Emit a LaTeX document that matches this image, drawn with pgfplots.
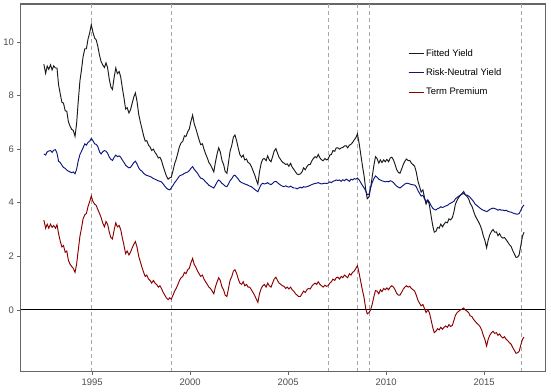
\documentclass[border=0pt]{standalone}
\usepackage{pgfplots}
\usepackage{pgfplotstable}
\usepackage{fontspec}
\setmainfont{Liberation Sans}
\pgfplotsset{compat=1.18}
\definecolor{fycol}{HTML}{1A1A1A}
\definecolor{rncol}{HTML}{0B1580}
\definecolor{tpcol}{HTML}{8B0000}
\definecolor{boxcol}{HTML}{666666}
\definecolor{ticklab}{HTML}{4D4D4D}
\definecolor{vlinecol}{HTML}{A6A6A6}
\pgfplotstableread{
x rn tp fy
1992.54 5.82 3.35 9.17
1992.63 5.78 3.05 8.83
1992.71 5.90 3.20 9.10
1992.79 5.93 3.05 8.98
1992.88 5.95 3.20 9.15
1992.96 5.88 3.08 8.96
1993.04 5.96 3.15 9.11
1993.13 5.98 3.05 9.03
1993.21 5.85 3.18 9.03
1993.29 5.55 2.85 8.40
1993.38 5.50 2.55 8.05
1993.46 5.40 2.35 7.75
1993.54 5.32 2.40 7.72
1993.63 5.28 2.15 7.43
1993.71 5.22 2.20 7.42
1993.79 5.18 1.85 7.03
1993.88 5.15 1.70 6.85
1993.96 5.12 1.62 6.74
1994.04 5.15 1.55 6.70
1994.13 5.08 1.40 6.48
1994.21 5.25 1.70 6.95
1994.29 5.55 2.20 7.75
1994.38 5.80 2.75 8.55
1994.46 5.92 3.05 8.97
1994.54 6.05 3.40 9.45
1994.63 6.20 3.55 9.75
1994.71 6.15 3.60 9.75
1994.79 6.25 3.85 10.10
1994.88 6.30 4.05 10.35
1994.96 6.40 4.25 10.65
1995.04 6.32 4.05 10.37
1995.13 6.20 3.95 10.15
1995.21 6.18 3.90 10.08
1995.29 6.10 3.75 9.85
1995.38 5.90 3.60 9.50
1995.46 5.82 3.45 9.27
1995.54 5.90 3.25 9.15
1995.63 5.95 3.10 9.05
1995.71 5.92 3.30 9.22
1995.79 5.85 3.20 9.05
1995.88 5.70 2.90 8.60
1995.96 5.62 2.70 8.32
1996.04 5.58 2.65 8.23
1996.13 5.70 3.00 8.70
1996.21 5.78 3.25 9.03
1996.29 5.72 3.10 8.82
1996.38 5.75 3.15 8.90
1996.46 5.70 3.00 8.70
1996.54 5.60 2.70 8.30
1996.63 5.50 2.40 7.90
1996.71 5.40 2.10 7.50
1996.79 5.35 2.20 7.55
1996.88 5.30 2.05 7.35
1996.96 5.32 2.15 7.47
1997.04 5.40 2.30 7.70
1997.13 5.50 2.45 7.95
1997.21 5.55 2.55 8.10
1997.29 5.45 2.35 7.80
1997.38 5.30 2.00 7.30
1997.46 5.22 1.80 7.02
1997.54 5.18 1.60 6.78
1997.63 5.10 1.40 6.50
1997.71 5.05 1.25 6.30
1997.79 5.02 1.30 6.32
1997.88 5.00 1.15 6.15
1997.96 4.98 1.10 6.08
1998.04 4.95 1.00 5.95
1998.13 4.90 1.10 6.00
1998.21 4.88 1.00 5.88
1998.29 4.85 0.95 5.80
1998.38 4.82 0.85 5.67
1998.46 4.80 0.90 5.70
1998.54 4.78 0.80 5.58
1998.63 4.70 0.65 5.35
1998.71 4.62 0.55 5.17
1998.79 4.55 0.45 5.00
1998.88 4.50 0.38 4.88
1998.96 4.48 0.45 4.93
1999.04 4.55 0.40 4.95
1999.13 4.65 0.55 5.20
1999.21 4.75 0.70 5.45
1999.29 4.82 0.80 5.62
1999.38 4.92 0.95 5.87
1999.46 5.00 1.10 6.10
1999.54 5.03 1.20 6.23
1999.63 5.05 1.25 6.30
1999.71 5.10 1.40 6.50
1999.79 5.12 1.35 6.47
1999.88 5.15 1.50 6.65
1999.96 5.20 1.55 6.75
2000.04 5.28 1.75 7.03
2000.13 5.35 1.92 7.27
2000.21 5.25 1.70 6.95
2000.29 5.18 1.60 6.78
2000.38 5.10 1.45 6.55
2000.46 5.00 1.35 6.35
2000.54 4.92 1.25 6.17
2000.63 4.90 1.30 6.20
2000.71 4.85 1.15 6.00
2000.79 4.78 1.05 5.83
2000.88 4.72 0.95 5.67
2000.96 4.65 0.85 5.50
2001.04 4.62 0.80 5.42
2001.13 4.58 0.70 5.28
2001.21 4.55 0.60 5.15
2001.29 4.65 0.85 5.50
2001.38 4.78 1.05 5.83
2001.46 4.85 1.20 6.05
2001.54 4.80 1.10 5.90
2001.63 4.72 0.85 5.57
2001.71 4.68 0.75 5.43
2001.79 4.62 0.55 5.17
2001.88 4.60 0.50 5.10
2001.96 4.70 0.80 5.50
2002.04 4.82 1.10 5.92
2002.13 4.90 1.25 6.15
2002.21 5.00 1.45 6.45
2002.29 5.03 1.50 6.53
2002.38 4.95 1.35 6.30
2002.46 4.88 1.15 6.03
2002.54 4.80 1.00 5.80
2002.63 4.75 0.95 5.70
2002.71 4.73 1.05 5.78
2002.79 4.70 0.90 5.60
2002.88 4.68 0.95 5.63
2002.96 4.65 0.85 5.50
2003.04 4.62 0.85 5.47
2003.13 4.60 0.75 5.35
2003.21 4.55 0.65 5.20
2003.29 4.50 0.55 5.05
2003.38 4.45 0.40 4.85
2003.46 4.41 0.28 4.69
2003.54 4.55 0.60 5.15
2003.63 4.68 0.80 5.48
2003.71 4.73 0.90 5.63
2003.79 4.70 0.95 5.65
2003.88 4.72 0.85 5.57
2003.96 4.75 1.00 5.75
2004.04 4.70 0.90 5.60
2004.13 4.68 0.85 5.53
2004.21 4.72 1.00 5.72
2004.29 4.78 1.15 5.93
2004.38 4.80 1.22 6.02
2004.46 4.75 1.10 5.85
2004.54 4.70 1.00 5.70
2004.63 4.65 0.95 5.60
2004.71 4.62 0.90 5.52
2004.79 4.60 0.88 5.48
2004.88 4.63 0.80 5.43
2004.96 4.60 0.85 5.45
2005.04 4.58 0.78 5.36
2005.13 4.62 0.85 5.47
2005.21 4.58 0.75 5.33
2005.29 4.55 0.70 5.25
2005.38 4.55 0.60 5.15
2005.46 4.52 0.55 5.07
2005.54 4.55 0.50 5.05
2005.63 4.58 0.50 5.08
2005.71 4.55 0.60 5.15
2005.79 4.60 0.70 5.30
2005.88 4.58 0.65 5.23
2005.96 4.60 0.75 5.35
2006.04 4.62 0.80 5.42
2006.13 4.65 0.78 5.43
2006.21 4.68 0.88 5.56
2006.29 4.70 0.95 5.65
2006.38 4.72 1.00 5.72
2006.46 4.73 0.95 5.68
2006.54 4.75 1.05 5.80
2006.63 4.72 0.95 5.67
2006.71 4.70 0.90 5.60
2006.79 4.72 0.85 5.57
2006.88 4.73 0.92 5.65
2006.96 4.72 0.88 5.60
2007.04 4.73 0.90 5.63
2007.13 4.78 1.00 5.78
2007.21 4.75 1.05 5.80
2007.29 4.80 1.15 5.95
2007.38 4.82 1.10 5.92
2007.46 4.85 1.20 6.05
2007.54 4.83 1.22 6.05
2007.63 4.85 1.15 6.00
2007.71 4.80 1.25 6.05
2007.79 4.86 1.20 6.06
2007.88 4.82 1.30 6.12
2007.96 4.88 1.25 6.13
2008.04 4.85 1.20 6.05
2008.13 4.80 1.35 6.15
2008.21 4.88 1.30 6.18
2008.29 4.85 1.40 6.25
2008.38 4.90 1.45 6.35
2008.46 4.88 1.55 6.43
2008.54 4.92 1.65 6.57
2008.63 4.85 1.35 6.20
2008.71 4.75 1.05 5.80
2008.79 4.65 0.75 5.40
2008.88 4.55 0.45 5.00
2008.96 4.45 0.05 4.50
2009.04 4.30 -0.15 4.15
2009.13 4.32 -0.10 4.22
2009.21 4.55 0.00 4.55
2009.29 4.75 0.20 4.95
2009.38 4.90 0.50 5.40
2009.46 5.00 0.72 5.72
2009.54 4.95 0.70 5.65
2009.63 4.88 0.60 5.48
2009.71 4.85 0.75 5.60
2009.79 4.82 0.68 5.50
2009.88 4.80 0.80 5.60
2009.96 4.78 0.75 5.53
2010.04 4.80 0.82 5.62
2010.13 4.78 0.75 5.53
2010.21 4.82 0.85 5.67
2010.29 4.80 0.90 5.70
2010.38 4.75 0.85 5.60
2010.46 4.68 0.75 5.43
2010.54 4.62 0.62 5.24
2010.63 4.58 0.55 5.13
2010.71 4.55 0.55 5.10
2010.79 4.60 0.65 5.25
2010.88 4.65 0.78 5.43
2010.96 4.70 0.85 5.55
2011.04 4.73 0.90 5.63
2011.13 4.72 0.85 5.57
2011.21 4.70 0.88 5.58
2011.29 4.68 0.80 5.48
2011.38 4.67 0.75 5.42
2011.46 4.66 0.70 5.36
2011.54 4.60 0.55 5.15
2011.63 4.45 0.35 4.80
2011.71 4.35 0.25 4.60
2011.79 4.25 0.15 4.40
2011.88 4.28 0.20 4.48
2011.96 4.15 0.05 4.20
2012.04 4.05 -0.10 3.95
2012.13 4.10 0.00 4.10
2012.21 4.02 -0.10 3.92
2012.29 3.90 -0.35 3.55
2012.38 3.80 -0.65 3.15
2012.46 3.75 -0.85 2.90
2012.54 3.73 -0.80 2.93
2012.63 3.78 -0.70 3.08
2012.71 3.80 -0.75 3.05
2012.79 3.85 -0.65 3.20
2012.88 3.82 -0.72 3.10
2012.96 3.85 -0.65 3.20
2013.04 3.88 -0.60 3.28
2013.13 3.90 -0.65 3.25
2013.21 3.95 -0.55 3.40
2013.29 3.98 -0.62 3.36
2013.38 4.02 -0.58 3.44
2013.46 4.05 -0.40 3.65
2013.54 4.15 -0.20 3.95
2013.63 4.20 -0.10 4.10
2013.71 4.25 -0.05 4.20
2013.79 4.28 0.00 4.28
2013.88 4.32 0.03 4.35
2013.96 4.35 0.07 4.42
2014.04 4.30 0.00 4.30
2014.13 4.28 -0.05 4.23
2014.21 4.25 -0.10 4.15
2014.29 4.20 -0.22 3.98
2014.38 4.12 -0.25 3.87
2014.46 4.05 -0.35 3.70
2014.54 3.95 -0.42 3.53
2014.63 3.90 -0.50 3.40
2014.71 3.85 -0.55 3.30
2014.79 3.80 -0.62 3.18
2014.88 3.75 -0.75 3.00
2014.96 3.72 -0.95 2.77
2015.04 3.70 -1.10 2.60
2015.13 3.67 -1.35 2.32
2015.21 3.70 -1.10 2.60
2015.29 3.75 -0.95 2.80
2015.38 3.78 -0.85 2.93
2015.46 3.80 -0.80 3.00
2015.54 3.78 -0.88 2.90
2015.63 3.76 -0.85 2.91
2015.71 3.72 -0.95 2.77
2015.79 3.75 -0.90 2.85
2015.88 3.72 -1.00 2.72
2015.96 3.73 -1.05 2.68
2016.04 3.70 -1.00 2.70
2016.13 3.72 -1.10 2.62
2016.21 3.68 -1.15 2.53
2016.29 3.66 -1.22 2.44
2016.38 3.65 -1.28 2.37
2016.46 3.62 -1.40 2.22
2016.54 3.60 -1.50 2.10
2016.63 3.58 -1.62 1.96
2016.71 3.57 -1.60 1.97
2016.79 3.60 -1.55 2.05
2016.88 3.72 -1.30 2.42
2016.96 3.85 -1.10 2.75
2017.04 3.92 -1.02 2.90
}\yields
\begin{document}
\begin{tikzpicture}
\begin{axis}[
  name=main,
  scale only axis,
  width=525bp, height=368bp,
  xmin=1991.34, xmax=2018.11,
  ymin=-2.31, ymax=11.42,
  xtick={1995,2000,2005,2010,2015},
  ytick={0,2,4,6,8,10},
  x tick label style={/pgf/number format/1000 sep={}},
  /pgf/number format/assume math mode=true,
  tick label style={font=\fontsize{9.5}{10}\selectfont, text=ticklab},
  axis line style={draw=boxcol, line width=0.9pt},
  tick style={draw=boxcol, line width=0.7pt},
  tick align=outside,
  major tick length=3bp,
  xtick pos=left, ytick pos=left,
  xticklabel style={yshift=-1bp},
  legend style={draw=none, fill=none, font=\fontsize{9.5}{11}\selectfont,
    at={(0.733,0.888)}, anchor=north west, row sep=7bp,
    legend cell align=left},
  legend image code/.code={\draw[#1, line width=0.9pt] (0bp,0bp) -- (12bp,0bp); \path (0bp,0bp) -- (15bp,0bp);},
]
\addplot[forget plot, draw=vlinecol, line width=0.7pt, dash pattern=on 4bp off 3bp] coordinates {(1994.95,-2.31) (1994.95,11.42)};
\addplot[forget plot, draw=vlinecol, line width=0.7pt, dash pattern=on 4bp off 3bp] coordinates {(1999.03,-2.31) (1999.03,11.42)};
\addplot[forget plot, draw=vlinecol, line width=0.7pt, dash pattern=on 4bp off 3bp] coordinates {(2007.04,-2.31) (2007.04,11.42)};
\addplot[forget plot, draw=vlinecol, line width=0.7pt, dash pattern=on 4bp off 3bp] coordinates {(2008.55,-2.31) (2008.55,11.42)};
\addplot[forget plot, draw=vlinecol, line width=0.7pt, dash pattern=on 4bp off 3bp] coordinates {(2009.15,-2.31) (2009.15,11.42)};
\addplot[forget plot, draw=vlinecol, line width=0.7pt, dash pattern=on 4bp off 3bp] coordinates {(2016.90,-2.31) (2016.90,11.42)};
\addplot[forget plot, black, line width=0.8pt] coordinates {(1991.34,0) (2018.11,0)};
\addplot[draw=fycol, line width=0.95pt] table[x=x, y=fy] {\yields};
\addlegendentry{Fitted Yield}
\addplot[draw=rncol, line width=0.95pt] table[x=x, y=rn] {\yields};
\addlegendentry{Risk-Neutral Yield}
\addplot[draw=tpcol, line width=0.95pt] table[x=x, y=tp] {\yields};
\addlegendentry{Term Premium}
\end{axis}
\draw[draw=boxcol, line width=1pt] (main.south west) rectangle (main.north east);
\path (main.north east) ++(6bp,4bp) coordinate (ne);
\path (main.south west) ++(-20bp,-20bp) coordinate (sw);
\path (sw) rectangle (ne);
\end{tikzpicture}
\end{document}
